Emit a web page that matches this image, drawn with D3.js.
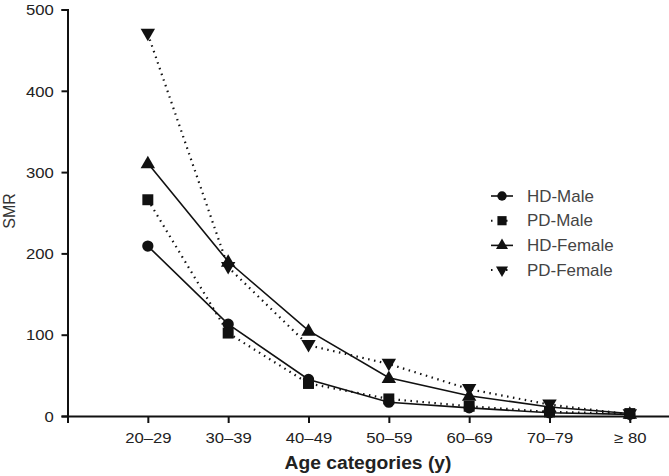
<!DOCTYPE html>
<html><head><meta charset="utf-8">
<script src="https://cdn.jsdelivr.net/npm/d3@7"></script>
<style>
body{margin:0;background:#fff;}
svg{display:block;font-family:"Liberation Sans",Arial,sans-serif;}
</style></head><body>
<svg id="c" width="669" height="476"></svg>
<script>
const categories = ["20\u201329","30\u201339","40\u201349","50\u201359","60\u201369","70\u201379","\u2265 80"];
const hdMale   = [209, 113, 45, 17, 10, 4, 2];
const pdMale   = [266, 102, 40, 21, 12, 5, 3];
const hdFemale = [311, 190, 105, 47, 25, 11, 3];
const pdFemale = [470, 183, 87, 64, 33, 14, 2];
const yTicks = [0, 100, 200, 300, 400, 500];
const seriesNames = ["HD-Male","PD-Male","HD-Female","PD-Female"];

const series = [
  {name: seriesNames[0], values: hdMale,   sym: d3.symbolCircle,   size: 100, dash: null, rot: 0},
  {name: seriesNames[1], values: pdMale,   sym: d3.symbolSquare,   size: 120, dash: "1.5,4.5", rot: 0},
  {name: seriesNames[2], values: hdFemale, sym: d3.symbolTriangle, size: 90, dash: null, rot: 0},
  {name: seriesNames[3], values: pdFemale, sym: d3.symbolTriangle, size: 90, dash: "1.5,4.5", rot: 180}
];

const svg = d3.select("#c");
const x = d3.scaleLinear().domain([-1, 6.5]).range([67.5, 670]);
const y = d3.scaleLinear().domain([0, 500]).range([416, 9.5]);

const xAxis = svg.append("g").attr("transform", "translate(0,416)")
  .call(d3.axisBottom(x).tickValues(d3.range(categories.length)).tickFormat(i => categories[i]).tickSizeOuter(0).tickSize(7).tickPadding(10));
const yAxis = svg.append("g").attr("transform", "translate(67.5,0)")
  .call(d3.axisLeft(y).tickValues(yTicks).tickSizeOuter(0).tickSize(6).tickPadding(6));
[xAxis, yAxis].forEach(g => {
  g.attr("font-size", null).attr("font-family", null);
  g.select(".domain").attr("stroke", "#111").attr("stroke-width", 2);
  g.selectAll(".tick line").attr("stroke", "#111").attr("stroke-width", 2);
  g.selectAll(".tick text").attr("fill", "#222").attr("font-size", 14.5).attr("transform", "scale(1.15,1)");
});
yAxis.selectAll(".tick text").attr("dy", "0.36em");

svg.append("text").attr("transform", "translate(368,469) scale(1.07,1)").attr("text-anchor", "middle")
  .attr("font-size", 18).attr("font-weight", "bold").attr("fill", "#222").text("Age categories (y)");
svg.append("text").attr("transform", "translate(15,211) rotate(-90)").attr("text-anchor", "middle")
  .attr("font-size", 16).attr("fill", "#333").text("SMR");

const line = d3.line().x((d, i) => x(i)).y(d => y(d));
series.forEach(s => {
  svg.append("path").datum(s.values).attr("d", line).attr("fill", "none")
    .attr("stroke", "#111").attr("stroke-width", s.dash ? 2.2 : 1.6)
    .attr("stroke-dasharray", s.dash);
});
series.forEach(s => {
  const sym = d3.symbol().type(s.sym).size(s.size);
  svg.append("g").selectAll("path").data(s.values).join("path")
    .attr("d", sym)
    .attr("transform", (d, i) => `translate(${x(i)},${y(d) + (s.sym === d3.symbolTriangle ? (s.rot ? -1 : 1) : 0)}) rotate(${s.rot})`)
    .attr("fill", "#111");
});

const lg = svg.append("g");
series.forEach((s, k) => {
  const cy = 196 + k * 24.7;
  lg.append("line").attr("x1", 491).attr("x2", 513).attr("y1", cy).attr("y2", cy)
    .attr("stroke", "#111").attr("stroke-width", s.dash ? 2 : 1.6)
    .attr("stroke-dasharray", s.dash ? "1.5,6" : null);
  lg.append("path").attr("d", d3.symbol().type(s.sym).size(s.size * 0.7))
    .attr("transform", `translate(502,${cy}) rotate(${s.rot})`).attr("fill", "#111");
  lg.append("text").attr("transform", `translate(527,${cy}) scale(1.06,1)`).attr("dy", "0.36em")
    .attr("font-size", 16).attr("fill", "#444").text(s.name);
});
</script>
</body></html>
